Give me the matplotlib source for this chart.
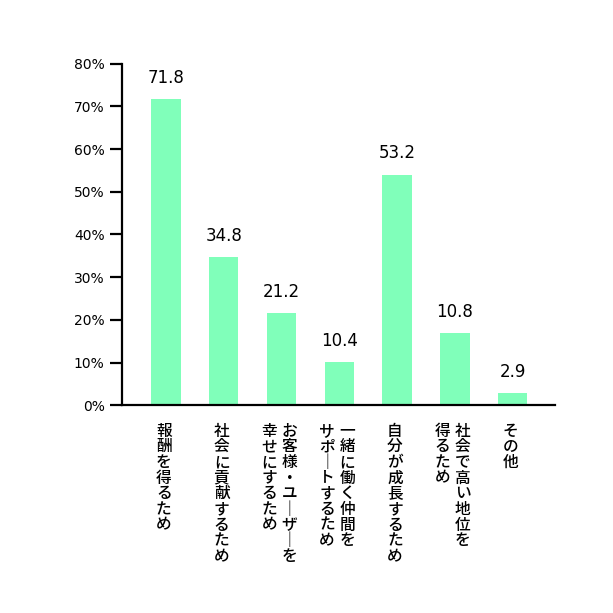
import matplotlib
matplotlib.use("Agg")
import matplotlib.pyplot as plt

categories = ["報酬を得るため", "社会に貢献するため", "お客様・ユーザーを\n幸せにするため",
              "一緒に働く仲間を\nサポートするため", "自分が成長するため",
              "社会で高い地位を\n得るため", "その他"]
heights = [71.7, 34.7, 21.6, 10.1, 54.0, 16.8, 2.8]
labels = ["71.8", "34.8", "21.2", "10.4", "53.2", "10.8", "2.9"]
yticks = [0, 10, 20, 30, 40, 50, 60, 70, 80]

plt.rcParams['font.family'] = ['Noto Sans CJK JP', 'DejaVu Sans']

fig = plt.figure(figsize=(6.13, 6.13), dpi=100)
ax = fig.add_axes([0.199, 0.339, 0.706, 0.557])
x = list(range(len(categories)))
ax.bar(x, heights, width=0.51, color='#80FFBA')
ax.set_xlim(-0.76, 6.73)
ax.set_ylim(0, 80)
ax.set_yticks(yticks)
ax.set_yticklabels([f"{v}%" for v in yticks], fontsize=10, family=['DejaVu Sans'])
ax.set_xticks([])
for s in ['top', 'right']:
    ax.spines[s].set_visible(False)
for s in ['left', 'bottom']:
    ax.spines[s].set_linewidth(1.6)
ax.tick_params(axis='y', length=8.5, width=1.6, pad=4)

for xi, h, lab in zip(x, heights, labels):
    ax.annotate(lab, (xi, h), xytext=(0, 9), textcoords='offset points',
                ha='center', va='bottom', fontsize=12, family=['DejaVu Sans'])

px = 0.72  # points per pixel
pitch = 15.7
colgap = 20
for xi, cat in zip(x, categories):
    cols = cat.split("\n")
    n = len(cols)
    for j, col in enumerate(cols):
        dx = ((n - 1) / 2 - j) * colgap
        for k, ch in enumerate(col):
            if ch == "ー":
                ch = "｜"
            dy = -(18 + pitch * k + pitch / 2)
            ax.annotate(ch, (xi, 0), xycoords=('data', 'axes fraction'),
                        xytext=(dx * px - 1.5, dy * px), textcoords='offset points',
                        ha='center', va='center', fontsize=11.3, weight='medium',
                        family=['Noto Sans CJK JP'])

fig.savefig("out.png", dpi=100, facecolor='white')
